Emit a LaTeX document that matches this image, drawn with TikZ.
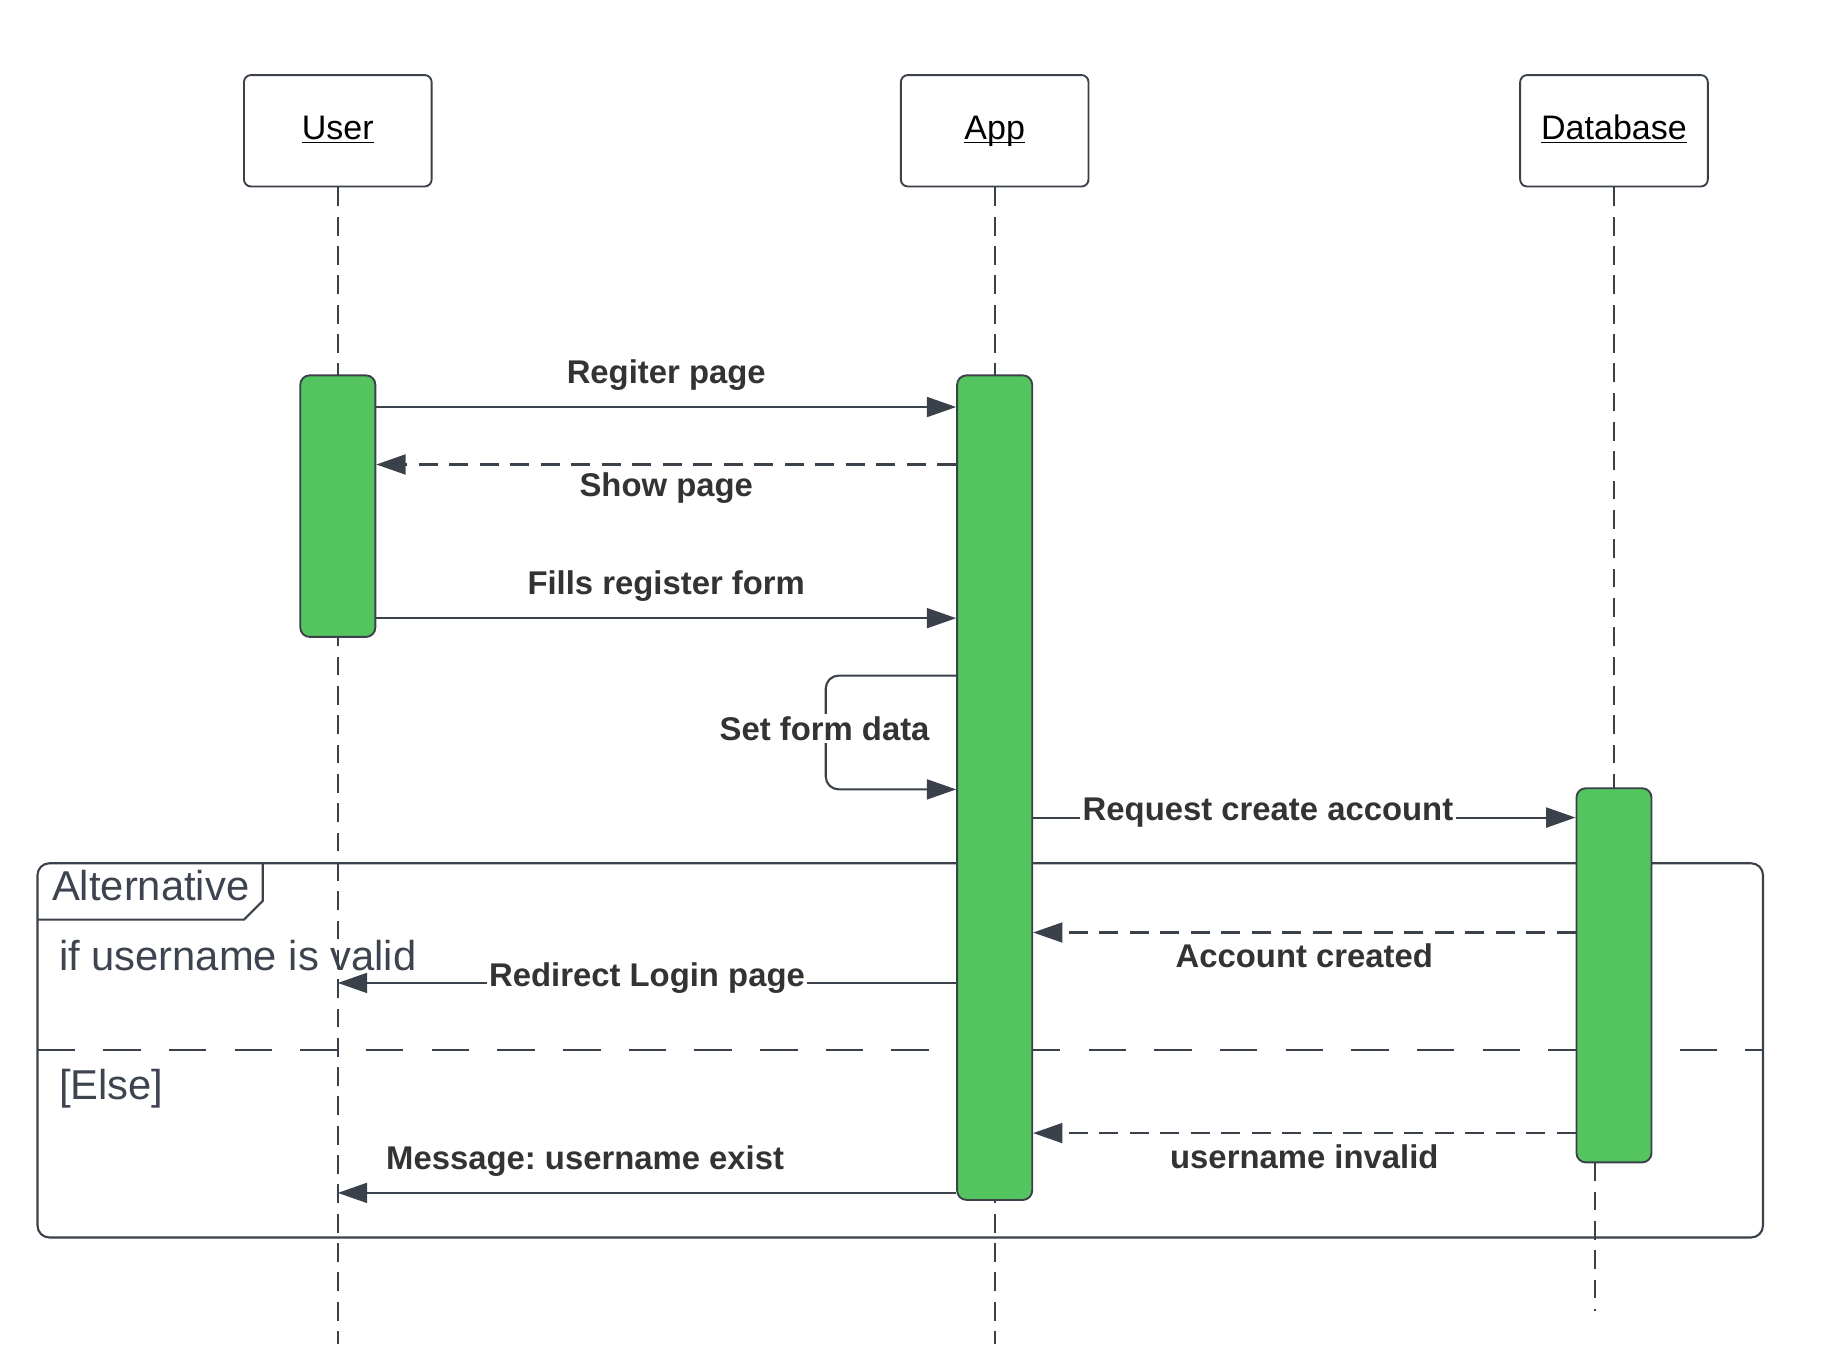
\documentclass[tikz,border=0pt]{standalone}
\usepackage{fontspec}
\setmainfont{Liberation Sans}
\usetikzlibrary{positioning,arrows.meta}
\frenchspacing

\definecolor{linegray}{HTML}{3A414A}
\definecolor{barfill}{HTML}{54C45E}
\definecolor{textdark}{HTML}{333333}
\definecolor{framegray}{HTML}{3D4450}

\newcommand{\headtext}[1]{\rlap{\underline{\smash{\phantom{#1}}}}#1}

\begin{document}
\begin{tikzpicture}[x=0.5pt,y=-0.5pt,
		head/.style={draw=linegray,line width=0.8pt,rounded corners=3pt,fill=white,minimum width=80pt,minimum height=47.5pt,inner sep=0pt,text height=10.5pt,text depth=3pt,font=\fontsize{14.5}{17}\selectfont},
		bar/.style={draw=linegray,line width=0.8pt,rounded corners=4pt,fill=barfill,minimum width=32pt,inner sep=0pt},
		life/.style={draw=linegray,line width=0.75pt,dash pattern=on 8pt off 4.5pt},
		msg/.style={draw=linegray,line width=0.9pt,-{Triangle[length=12.5pt,width=8.5pt]}},
		reply/.style={msg,dash pattern=on 8pt off 5pt},
		lbl/.style={text=textdark,font=\bfseries\fontsize{14}{16}\selectfont,inner sep=1pt},
		alt/.style={text=framegray,font=\fontsize{17.8}{20}\selectfont,inner sep=0pt,anchor=west}]
		\useasboundingbox (0,0) rectangle (1567,1146);

		% combined fragment
		\draw[linegray,line width=0.9pt,rounded corners=5pt] (32,736) rectangle (1503,1055);
		\draw[linegray,line width=0.9pt] (32,784) -- (208,784) -- (224,768) -- (224,736);
		\draw[linegray,line width=0.7pt,dash pattern=on 16pt off 12pt] (32,895) -- (1503,895);
		\node[alt]	(altname)	at (44,755)	{Alternative};
		\node[alt]	(guard1)	at (50,815)	{if username is valid};
		\node[alt]	(guard2)	at (50,928)	{[Else]};

		% participants
		\node[head]	(user)	at (288,111.5)	{\headtext{User}};
		\node[head]	(app)	at (848,111.5)	{\headtext{App}};
		\node[head]	(db)	at (1376,111.5)	{\headtext{Database}};
		\coordinate	(dbend)	at (1360,1118);

		\draw[life] (user.south) -- (user.center |- 0,1146);
		\draw[life] (app.south) -- (app.center |- 0,1146);
		\draw[life] (db.south) -- (db.center |- 0,672);
		\draw[life] (dbend |- 0,991) -- (dbend);

		% activations
		\node[bar,minimum height=111.5pt]	(userbar)	at (288,431.5)	{};
		\node[bar,minimum height=351.5pt]	(appbar)	at (848,671.5)	{};
		\node[bar,minimum height=159.5pt]	(dbbar)		at (1376,831.5)	{};

		% messages
		\draw[msg] (userbar.east |- 0,347) -- node[lbl,yshift=13.5pt] {Regiter page} (appbar.west |- 0,347);
		\draw[reply] (appbar.west |- 0,396) -- node[lbl,yshift=-10pt] {Show page} (userbar.east |- 0,396);
		\draw[msg] (userbar.east |- 0,527) -- node[lbl,yshift=13.5pt] {Fills register form} (appbar.west |- 0,527);
		\draw[msg,rounded corners=5.5pt] (appbar.west |- 0,576) -- (704,576) -- (704,673) -- (appbar.west |- 0,673);
		\node[lbl,fill=white] (setdata) at (703,621) {Set form data};
		\draw[msg] (appbar.east |- 0,697) -- node[lbl,fill=white,pos=0.433,yshift=2pt] {Request create account} (dbbar.west |- 0,697);
		\draw[reply] (dbbar.west |- 0,795) -- node[lbl,yshift=-10pt] {Account created} (appbar.east |- 0,795);
		\draw[msg] (appbar.west |- 0,838) -- node[lbl,fill=white,yshift=2pt] {Redirect Login page} (user.center |- 0,838);
		\draw[reply] (dbbar.west |- 0,966) -- node[lbl,yshift=-10pt] {username invalid} (appbar.east |- 0,966);
		\draw[msg] (appbar.west |- 0,1017) -- node[lbl,pos=0.6,yshift=13.5pt] {Message: username exist} (user.center |- 0,1017);
	\end{tikzpicture}
\end{document}
